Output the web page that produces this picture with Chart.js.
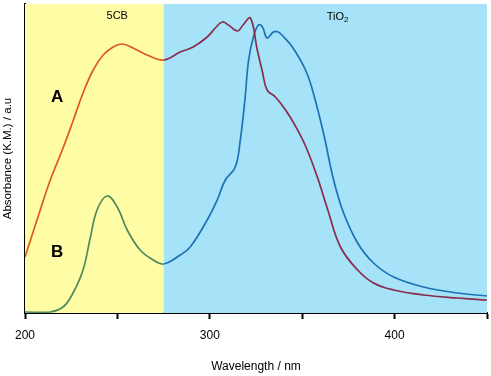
<!DOCTYPE html>
<html>
<head>
<meta charset="utf-8">
<script src="https://cdn.jsdelivr.net/npm/chart.js@4/dist/chart.umd.min.js"></script>
<style>
  html, body { margin: 0; padding: 0; background: #fff; }
  #wrap { width: 491px; height: 376px; }
</style>
</head>
<body>
<div id="wrap"><canvas id="myChart" width="491" height="376"></canvas></div>
<script>
// curve A (5CB on TiO2)
const wlA = [200, 206.5, 213.5, 220.6, 226, 231.4, 236.9, 242.3, 247.7, 252.6, 258.5, 266, 275, 284, 291, 298.6, 303, 306.8, 310, 315, 318, 322, 325.7, 328.5, 331, 335.5, 341, 346, 351.8, 358, 363.7, 370.7, 380, 388.6, 399.5, 415.7, 434, 450];
const absA = [56, 93, 132, 165, 192, 220, 243, 258, 266, 269, 265, 258, 253, 261, 266, 276, 285, 291, 288, 282, 288, 295, 263, 241, 223, 216, 203, 188, 167, 137, 104, 66, 43, 30, 23, 18, 15, 13];

// curve B
const wlB = [200, 213.5, 220.6, 226, 231.4, 235.2, 239, 244.4, 249.9, 255.3, 262.3, 269.4, 275, 284, 289.4, 298.6, 304, 308.4, 313.8, 316.5, 319, 321, 323.6, 326.3, 328.5, 331, 334.4, 337, 340, 344.7, 351.8, 356, 361.5, 367, 372.4, 380, 388.6, 399.5, 415.7, 434, 450];
const absB = [1, 1, 6, 20, 43, 74, 103, 117, 106, 83, 63, 53, 49, 58, 66, 93, 113, 133, 146, 173, 213, 253, 276, 288, 286, 275, 281, 281, 276, 266, 243, 220, 180, 133, 100, 70, 50, 36, 26, 20, 17];

const xTicks = [200, 300, 400];
const split = 275; // 5CB | TiO2 boundary

const toXY = (xs, ys) => xs.map((x, i) => ({ x: x, y: ys[i] }));
const twoTone = (left, right) => ctx => (ctx.p0.parsed.x < split ? left : right);

const bgPlugin = {
  id: 'bands',
  beforeDatasetsDraw(chart) {
    const { ctx, chartArea: a, scales: { x } } = chart;
    const xs = x.getPixelForValue(split);
    ctx.save();
    ctx.fillStyle = '#fffca6';
    ctx.fillRect(a.left, a.top, xs - a.left, a.bottom - a.top);
    ctx.fillStyle = '#a6e3f8';
    ctx.fillRect(xs, a.top, a.right - xs, a.bottom - a.top);
    ctx.restore();
  },
  afterDatasetsDraw(chart) {
    const { ctx, scales: { x, y } } = chart;
    ctx.save();
    ctx.fillStyle = '#000';
    ctx.textAlign = 'center';
    ctx.textBaseline = 'middle';
    ctx.font = 'bold 17px "Liberation Sans", Arial, sans-serif';
    ctx.fillText('A', x.getPixelForValue(217.4), y.getPixelForValue(216));
    ctx.fillText('B', x.getPixelForValue(217.4), y.getPixelForValue(61));
    ctx.font = '11px "Liberation Sans", Arial, sans-serif';
    ctx.fillText('5CB', x.getPixelForValue(249.9), y.getPixelForValue(297));
    const tx = x.getPixelForValue(370.5), ty = y.getPixelForValue(296);
    ctx.textAlign = 'right';
    ctx.fillText('TiO', tx + 4, ty);
    ctx.font = '8px "Liberation Sans", Arial, sans-serif';
    ctx.textAlign = 'left';
    ctx.fillText('2', tx + 4, ty + 3);
    ctx.restore();
  }
};

const ctx = document.getElementById('myChart').getContext('2d');
const myChart = new Chart(ctx, {
  type: 'line',
  data: {
    datasets: [
      {
        label: 'A',
        data: toXY(wlA, absA),
        borderWidth: 1.7,
        pointRadius: 0,
        tension: 0.4,
        segment: { borderColor: twoTone('#de5a1c', '#8a2c4c') }
      },
      {
        label: 'B',
        data: toXY(wlB, absB),
        borderWidth: 1.7,
        pointRadius: 0,
        tension: 0.4,
        segment: { borderColor: twoTone('#4f8a5c', '#1c72b4') }
      }
    ]
  },
  options: {
    responsive: false,
    animation: false,
    layout: { padding: { top: 4, right: 4, left: 0, bottom: 0 } },
    plugins: { legend: { display: false }, tooltip: { enabled: false } },
    scales: {
      x: {
        type: 'linear',
        min: 200,
        max: 450,
        afterFit: s => { s.height = 63; s.paddingLeft = 0; s.paddingRight = 0; },
        border: { color: '#000', width: 2 },
        grid: { drawOnChartArea: false, drawTicks: true, tickLength: 6, tickColor: '#000', tickWidth: 2 },
        ticks: {
          stepSize: 50,
          padding: 9,
          color: '#000',
          font: { family: '"Liberation Sans", Arial, sans-serif', size: 12 },
          maxRotation: 0,
          callback: v => (xTicks.includes(v) ? String(v) : '')
        },
        title: {
          display: true,
          text: 'Wavelength / nm',
          color: '#000',
          font: { family: '"Liberation Sans", Arial, sans-serif', size: 12 },
          padding: { top: 0, bottom: 2 }
        }
      },
      y: {
        min: 0,
        max: 309,
        afterFit: s => { s.width = 25; },
        border: { color: '#000', width: 2 },
        grid: { display: false },
        ticks: { display: false },
        title: {
          display: true,
          text: 'Absorbance (K.M.) / a.u',
          color: '#000',
          font: { family: '"Liberation Sans", Arial, sans-serif', size: 11.5 },
          padding: { top: 1, bottom: 0 }
        }
      }
    }
  },
  plugins: [bgPlugin]
});
</script>
</body>
</html>
